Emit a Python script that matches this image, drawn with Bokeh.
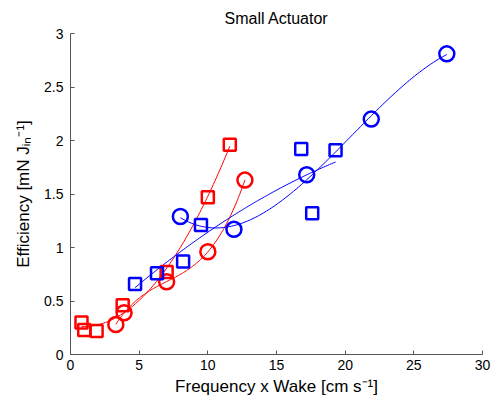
import numpy as np
from bokeh.plotting import figure
from bokeh.models import Range1d, FixedTicker
from bokeh.embed import file_html
from bokeh.resources import INLINE

# data
red_sq_x = [0.8, 1.0, 1.9, 3.8, 7.0, 10.0, 11.6]
red_sq_y = [0.30, 0.23, 0.22, 0.46, 0.77, 1.47, 1.96]
red_ci_x = [3.3, 3.9, 7.0, 10.0, 12.7]
red_ci_y = [0.28, 0.39, 0.68, 0.96, 1.63]
blue_sq_x = [4.7, 6.3, 8.2, 9.5, 16.8, 17.6, 19.3]
blue_sq_y = [0.66, 0.76, 0.87, 1.21, 1.92, 1.32, 1.91]
blue_ci_x = [8.0, 11.9, 17.2, 21.9, 27.4]
blue_ci_y = [1.29, 1.17, 1.68, 2.20, 2.81]

x_ticks = [0, 5, 10, 15, 20, 25, 30]
x_tick_labels = ["0", "5", "10", "15", "20", "25", "30"]
y_ticks = [0, 0.5, 1, 1.5, 2, 2.5, 3]
y_tick_labels = ["0", "0.5", "1", "1.5", "2", "2.5", "3"]

RED = "#ff0000"
BLUE = "#0000ff"
FONT = "Liberation Sans"

p = figure(width=493, height=406, output_backend="svg", toolbar_location=None,
           x_range=Range1d(0, 30), y_range=Range1d(0, 3),
           min_border_left=70, min_border_right=11, min_border_top=33, min_border_bottom=52)
p.title.text = "Small Actuator"
p.title.align = "center"
p.title.text_font = FONT
p.title.text_font_size = "16px"
p.title.text_font_style = "normal"
p.title.text_color = "#000000"
p.title.standoff = 14
p.outline_line_color = None
p.xgrid.visible = False
p.ygrid.visible = False


def fit_line(xs, ys, deg, color):
    c = np.polyfit(xs, ys, deg)
    xx = np.linspace(min(xs), max(xs), 100)
    p.line(xx, np.polyval(c, xx), line_color=color, line_width=1)


fit_line(red_sq_x, red_sq_y, 2, RED)
fit_line(red_ci_x, red_ci_y, 3, RED)
fit_line(blue_sq_x, blue_sq_y, 2, BLUE)
fit_line(blue_ci_x, blue_ci_y, 3, BLUE)

p.scatter(red_sq_x, red_sq_y, marker="square", size=12, fill_color=None, line_color=RED, line_width=2.5)
p.scatter(red_ci_x, red_ci_y, marker="circle", size=15, fill_color=None, line_color=RED, line_width=2.5)
p.scatter(blue_sq_x, blue_sq_y, marker="square", size=12, fill_color=None, line_color=BLUE, line_width=2.5)
p.scatter(blue_ci_x, blue_ci_y, marker="circle", size=15, fill_color=None, line_color=BLUE, line_width=2.5)

p.xaxis.ticker = FixedTicker(ticks=x_ticks)
p.xaxis.major_label_overrides = {t: l for t, l in zip(x_ticks, x_tick_labels)}
p.yaxis.ticker = FixedTicker(ticks=y_ticks)
p.yaxis.major_label_overrides = {t: l for t, l in zip(y_ticks, y_tick_labels)}
p.xaxis.axis_label = "Frequency x Wake [cm s\u207b\u00b9]"
p.yaxis.axis_label = "Efficiency [mN J\u1d62\u2099\u207b\u00b9]"

for ax in (p.xaxis, p.yaxis):
    ax.axis_line_color = "#555555"
    ax.major_tick_line_color = "#555555"
    ax.major_tick_in = 4
    ax.major_tick_out = 0
    ax.minor_tick_line_color = None
    ax.major_label_text_font = FONT
    ax.major_label_text_font_size = "14px"
    ax.major_label_text_color = "#000000"
    ax.axis_label_text_font = FONT
    ax.axis_label_text_font_size = "17px"
    ax.axis_label_text_font_style = "normal"
    ax.axis_label_text_color = "#000000"
p.xaxis.major_label_standoff = 5
p.yaxis.major_label_standoff = 7
p.xaxis.axis_label_standoff = 4
p.yaxis.axis_label_standoff = 8

open("out.html", "w").write(file_html(p, INLINE))
